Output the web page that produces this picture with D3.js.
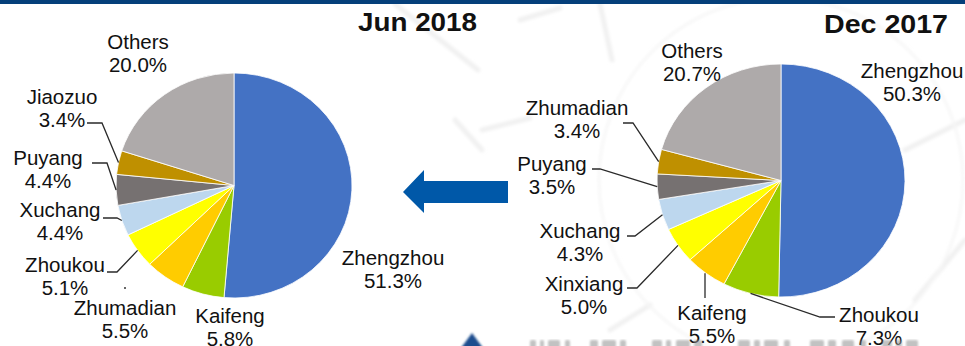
<!DOCTYPE html>
<html>
<head>
<meta charset="utf-8">
<script src="https://cdn.jsdelivr.net/npm/d3@7/dist/d3.min.js"></script>
<style>
  html, body { margin: 0; padding: 0; background: #ffffff; }
  svg { display: block; }
  text { font-family: "Liberation Sans", Arial, sans-serif; fill: #111; }
</style>
</head>
<body>
<svg id="chart" width="965" height="346"></svg>
<script>
// Market share by city, clockwise from 12 o'clock
const junCities  = ["Zhengzhou", "Kaifeng", "Zhumadian", "Zhoukou", "Xuchang", "Puyang", "Jiaozuo", "Others"];
const junShares  = [51.3, 5.8, 5.5, 5.1, 4.4, 4.4, 3.4, 20.0];
const decCities  = ["Zhengzhou", "Zhoukou", "Kaifeng", "Xinxiang", "Xuchang", "Puyang", "Zhumadian", "Others"];
const decShares  = [50.3, 7.3, 5.5, 5.0, 4.3, 3.5, 3.4, 20.7];
const chartTitles = ["Jun 2018", "Dec 2017"];

// Slice colours by position in each pie
const sliceColors = ["#4472C4", "#99CC00", "#FFCC00", "#FFFF00", "#BDD7EE", "#767171", "#BF9000", "#AEAAAA"];

// Label placement: first baseline, centre x, optional leader [startX, elbowX, y] or vertical stub
const junLayout = {
  Zhengzhou: { x: 393, y: 265 },
  Kaifeng:   { x: 230, y: 323 },
  Zhumadian: { x: 125, y: 315, dot: [125, 288] },
  Zhoukou:   { x: 65,  y: 272, leader: [107, 117, 272] },
  Xuchang:   { x: 60,  y: 217, leader: [103, 117, 218] },
  Puyang:    { x: 48,  y: 165, leader: [92, 107, 163] },
  Jiaozuo:   { x: 62,  y: 104, leader: [87, 102, 123] },
  Others:    { x: 138, y: 49 }
};
const decLayout = {
  Zhengzhou: { x: 912, y: 78 },
  Zhoukou:   { x: 879, y: 322, leader: [835, 820, 317] },
  Kaifeng:   { x: 712, y: 320, vleader: [705, 298] },
  Xinxiang:  { x: 584, y: 291, leader: [627, 637, 288] },
  Xuchang:   { x: 580, y: 238, leader: [627, 635, 236] },
  Puyang:    { x: 552, y: 171, leader: [592, 600, 169] },
  Zhumadian: { x: 577, y: 115, leader: [623, 633, 123] },
  Others:    { x: 692, y: 58 }
};

const svg = d3.select("#chart");
const defs = svg.append("defs");
defs.append("filter").attr("id", "soft").append("feGaussianBlur").attr("stdDeviation", 1.8);
defs.append("filter").attr("id", "softer").append("feGaussianBlur").attr("stdDeviation", 0.8);

// Faint background network pattern
const wm = svg.append("g").attr("filter", "url(#soft)").attr("fill", "none")
  .attr("stroke", "#f1f1f1").attr("stroke-width", 5).attr("stroke-linecap", "round");
[
  [[395, 4], [478, 70]],
  [[455, 120], [482, 150]],
  [[600, 4], [612, 60]],
  [[482, 130], [530, 118]],
  [[905, 150], [965, 120]],
  [[915, 300], [965, 240]],
  [[610, 330], [650, 305]],
  [[520, 20], [560, 8]]
].forEach(p => wm.append("path").attr("d", d3.line()(p)));
wm.append("circle").attr("cx", 781).attr("cy", 180).attr("r", 182).attr("stroke-width", 2.5).attr("stroke", "#f6f6f6");

// Top rule
svg.append("rect").attr("x", 0).attr("y", 0).attr("width", 965).attr("height", 4).attr("fill", "#053F7A");

function drawPie(cities, shares, title, layout, geo) {
  const pie = d3.pie().sort(null).value(d => d.v)(cities.map((c, i) => ({ c, v: shares[i], i })));
  const arc = d3.arc().innerRadius(0).outerRadius(geo.rx);
  const g = svg.append("g");

  g.append("g")
    .attr("transform", `translate(${geo.cx},${geo.cy}) scale(1,${geo.ry / geo.rx})`)
    .selectAll("path").data(pie).join("path")
      .attr("d", arc)
      .attr("fill", d => sliceColors[d.data.i])
      .attr("stroke", "#ffffff")
      .attr("stroke-width", 0.8)
      .attr("vector-effect", "non-scaling-stroke");

  // Point on the rim at a slice's mid-angle
  const rim = d => {
    const a = (d.startAngle + d.endAngle) / 2;
    return [geo.cx + geo.rx * Math.sin(a), geo.cy - geo.ry * Math.cos(a)];
  };

  const leaders = g.append("g").attr("fill", "none").attr("stroke", "#2a2a2a").attr("stroke-width", 1.3);
  pie.forEach(d => {
    const L = layout[d.data.c];
    if (L.leader) {
      const [x0, x1, y] = L.leader;
      leaders.append("path").attr("d", d3.line()([[x0, y], [x1, y], rim(d)]));
    }
    if (L.vleader) {
      const [x, y0] = L.vleader;
      const p = rim(d);
      leaders.append("path").attr("d", d3.line()([[x, y0], [x, p[1]]]));
    }
    if (L.dot) {
      g.append("circle").attr("cx", L.dot[0]).attr("cy", L.dot[1]).attr("r", 1).attr("fill", "#333");
    }
    const t = g.append("text").attr("text-anchor", "middle").attr("font-size", 20.5)
      .attr("x", L.x).attr("y", L.y);
    t.append("tspan").attr("x", L.x).text(d.data.c);
    t.append("tspan").attr("x", L.x).attr("dy", 22.5).text(d3.format(".1f")(d.data.v) + "%");
  });

  g.append("text")
    .attr("x", geo.tx).attr("y", geo.ty)
    .attr("text-anchor", "end")
    .attr("font-size", 25).attr("font-weight", "bold")
    .attr("textLength", geo.tw).attr("lengthAdjust", "spacingAndGlyphs")
    .text(title);
}

drawPie(junCities, junShares, chartTitles[0], junLayout,
  { cx: 234, cy: 185.5, rx: 118, ry: 112.5, tx: 477, ty: 31, tw: 119 });
drawPie(decCities, decShares, chartTitles[1], decLayout,
  { cx: 781, cy: 180.5, rx: 124, ry: 116.5, tx: 948, ty: 33, tw: 124 });

// Arrow from the earlier period to the later one
svg.append("path")
  .attr("d", "M403,192 L424,170 L424,181 L508,181 L508,203 L424,203 L424,213 Z")
  .attr("fill", "#0058A8");

// Partial footer strip: marker and the tops of a line of text below the frame
svg.append("path").attr("d", "M472,333 L458,352 L486,352 Z").attr("fill", "#1D4E8E").attr("filter", "url(#softer)");
const foot = svg.append("g").attr("fill", "#9a9a9a").attr("opacity", 0.6).attr("filter", "url(#softer)");
[[530, 6], [540, 4], [548, 12], [565, 5], [590, 8], [602, 14], [620, 6], [652, 10], [666, 5], [676, 14],
 [694, 8], [738, 12], [754, 6], [764, 14], [784, 6], [810, 14], [828, 8], [842, 12], [860, 6],
 [882, 10], [896, 6], [906, 12]].forEach(([x, w]) => {
  foot.append("rect").attr("x", x).attr("y", 340).attr("width", w).attr("height", 8).attr("rx", 1.5);
});
</script>
</body>
</html>
